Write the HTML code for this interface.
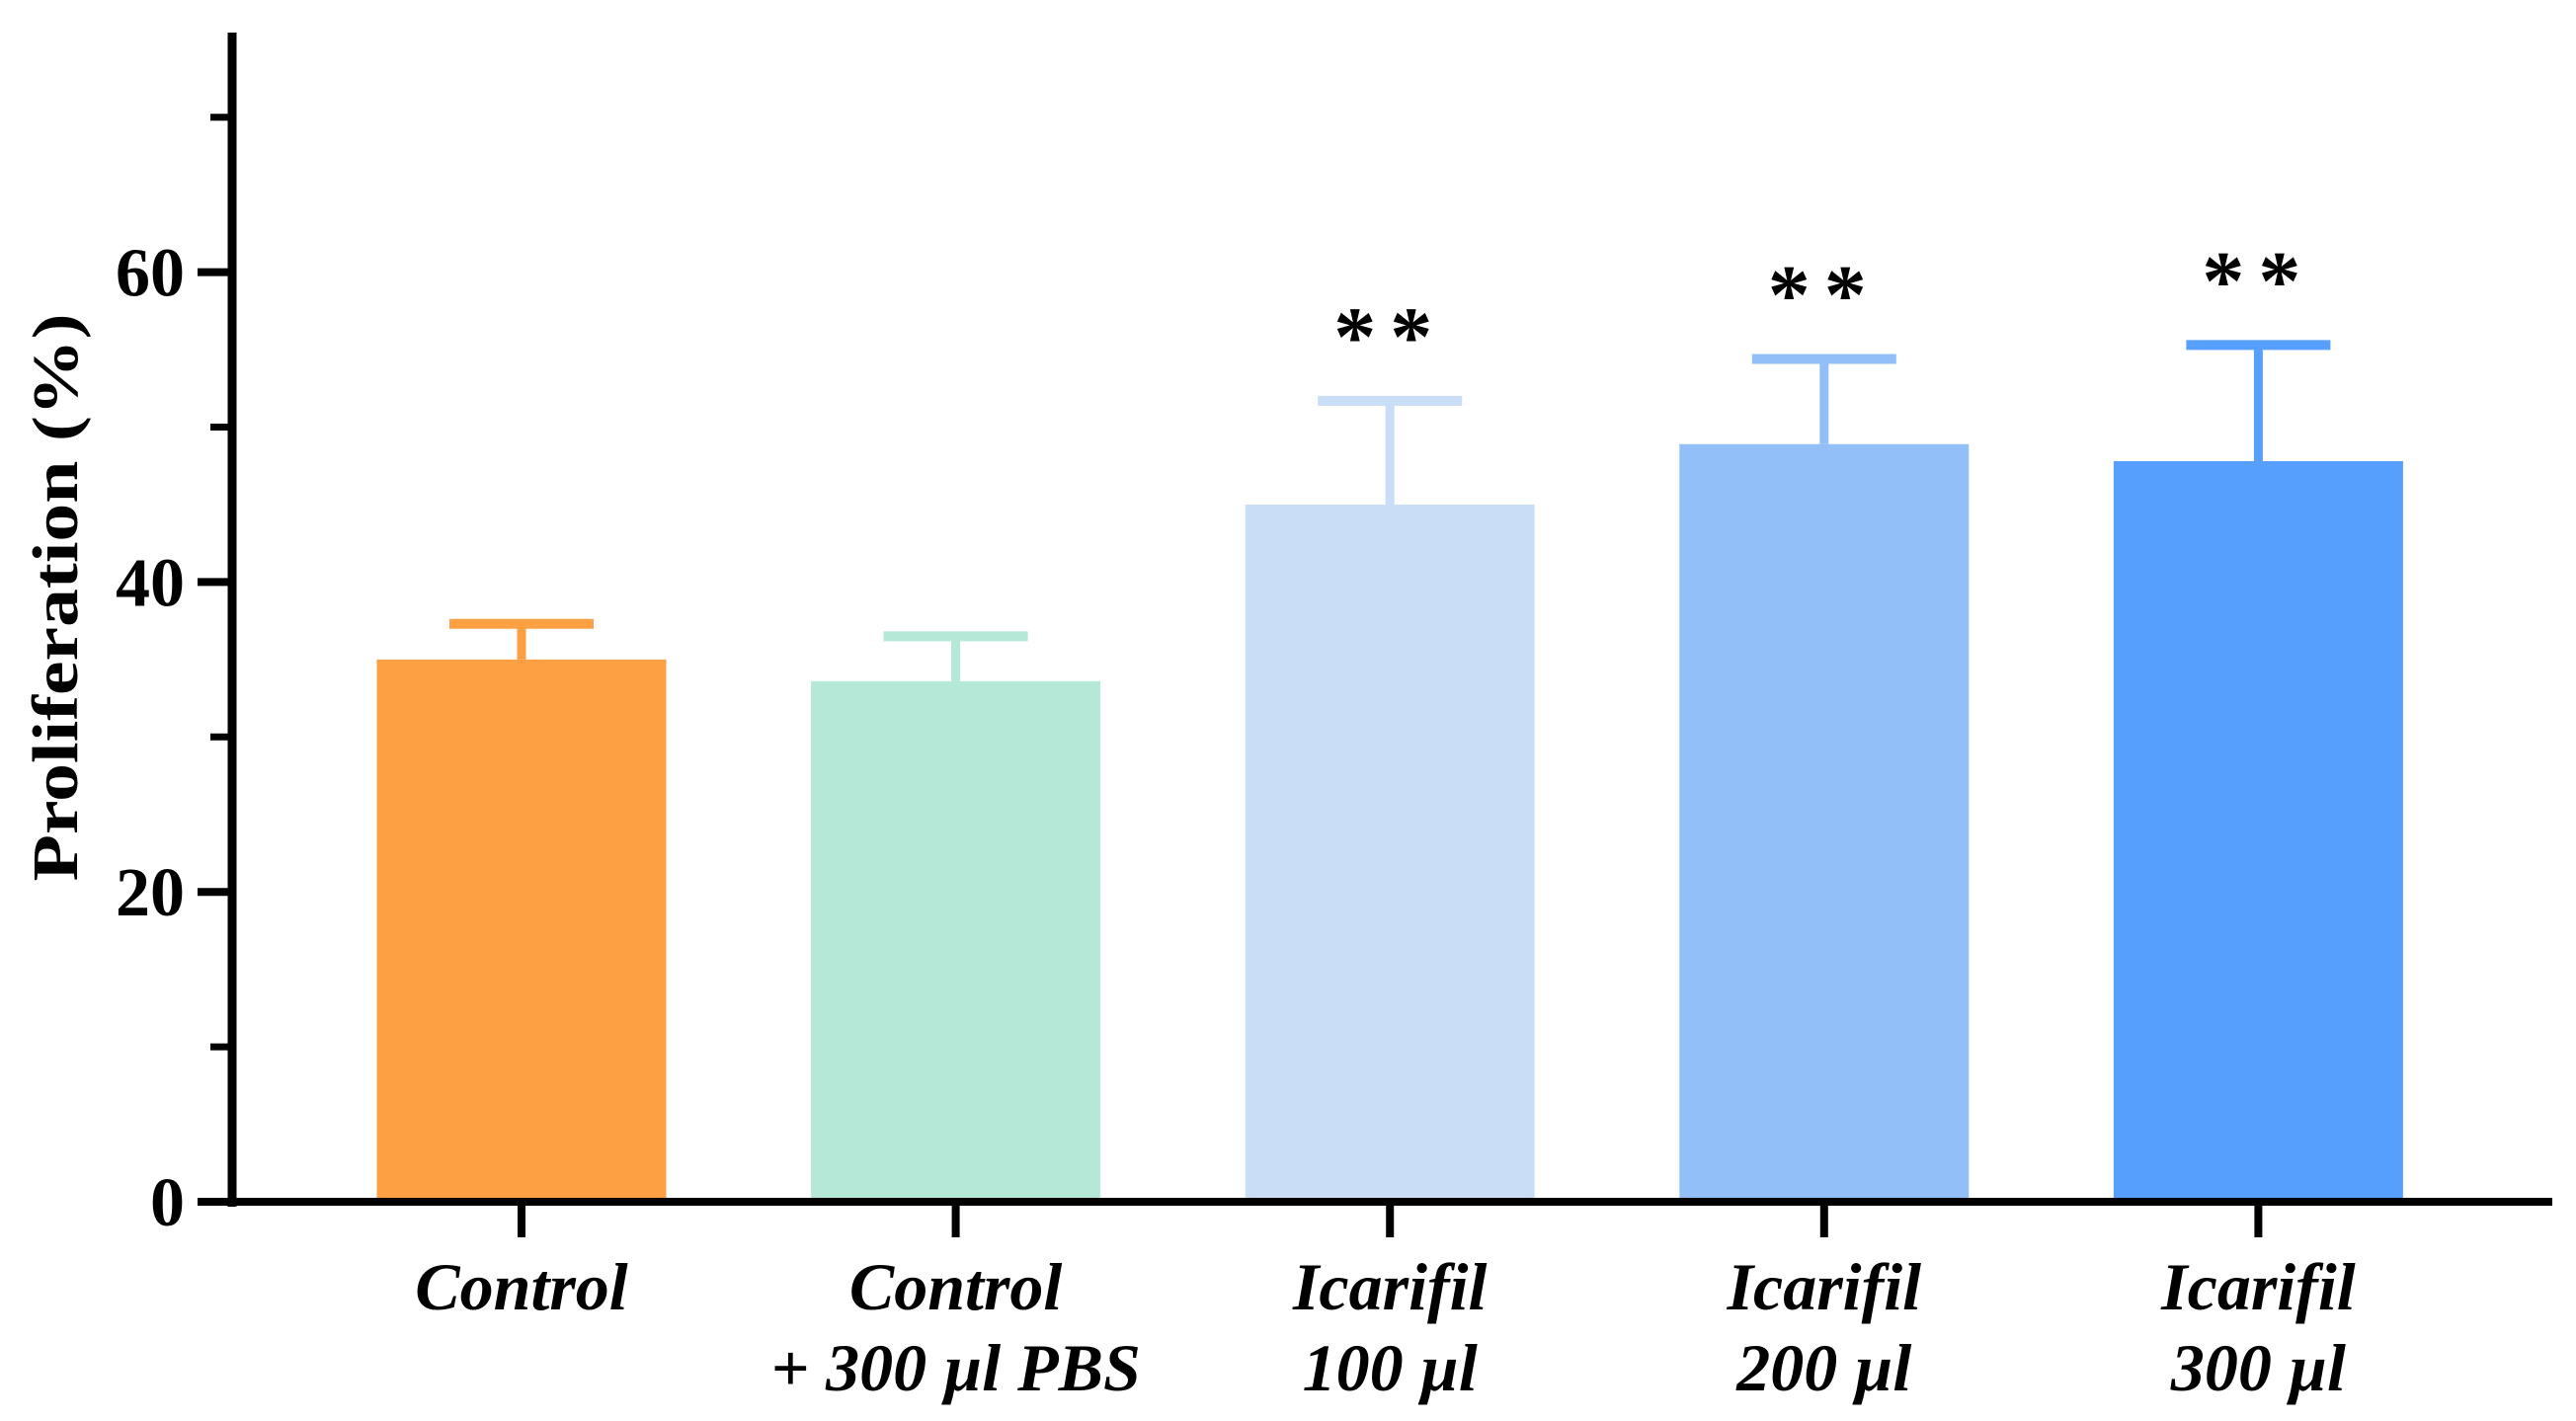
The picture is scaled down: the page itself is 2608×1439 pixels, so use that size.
<!DOCTYPE html>
<html><head><meta charset="utf-8"><style>
html,body{margin:0;padding:0;background:#fff}
svg{display:block}
text{font-family:"Liberation Serif",serif;font-weight:bold}
</style></head><body>
<svg id="chart" width="2608" height="1439" viewBox="0 0 2608 1439" xmlns="http://www.w3.org/2000/svg">
<g id="axes"></g><g id="bars"></g>
<text transform="translate(78,605) rotate(-90)" text-anchor="middle" font-size="66" textLength="575" lengthAdjust="spacingAndGlyphs">Proliferation (%)</text>
</svg>
<script>
const categories1 = ["Control","Control","Icarifil","Icarifil","Icarifil"];
const categories2 = ["","+ 300 µl PBS","100 µl","200 µl","300 µl"];
const means = [35.0, 33.6, 45.0, 48.9, 47.8];
const errors = [2.3, 2.9, 6.7, 5.5, 7.5];
const stars = ["", "", "**", "**", "**"];
const colors = ["#FDA043","#B5E8D6","#C9DDF7","#93BFF8","#569FFC"];
const yTicks = [0, 20, 40, 60];
const yMinor = [10, 30, 50, 70];

const NS = "http://www.w3.org/2000/svg";
const x0 = 235, y0 = 1217, pxPerUnit = 15.69, xStart = 528, step = 439.6, barW = 293;
const yScale = v => y0 - v * pxPerUnit;
const xScale = i => xStart + i * step;
function mk(tag, attrs, parent){const e=document.createElementNS(NS,tag);for(const k in attrs)e.setAttribute(k,attrs[k]);parent.appendChild(e);return e;}
const axes = document.getElementById('axes'), bars = document.getElementById('bars');

let yl = mk('line',{x1:x0,y1:33,x2:x0,y2:y0+5,stroke:'#000','stroke-width':9},axes);


let xl = mk('line',{x1:x0-4,y1:y0,x2:2584,y2:y0,stroke:'#000','stroke-width':8},axes);


yTicks.forEach(v=>{
  const t = mk('line',{x1:x0-35,y1:yScale(v),x2:x0,y2:yScale(v),stroke:'#000','stroke-width':8},axes);
  
  
  const l = mk('text',{x:x0-48,y:yScale(v)+24,'text-anchor':'end','font-size':70},axes);
  l.textContent = v;
  
  
});
yMinor.forEach(v=>{
  const t = mk('line',{x1:x0-22,y1:yScale(v),x2:x0,y2:yScale(v),stroke:'#000','stroke-width':7},axes);
  
  
});
means.forEach((m,i)=>{
  const cx = xScale(i);
  const top = yScale(m), et = yScale(m+errors[i]);
  const b = mk('rect',{x:cx-barW/2,y:top,width:barW,height:y0-4-top,fill:colors[i]},bars);
  
  
  const s = mk('line',{x1:cx,y1:top,x2:cx,y2:et,stroke:colors[i],'stroke-width':9},bars);
  
  
  const c = mk('line',{x1:cx-73,y1:et,x2:cx+73,y2:et,stroke:colors[i],'stroke-width':10},bars);
  
  
  const t = mk('line',{x1:cx,y1:y0,x2:cx,y2:y0+36,stroke:'#000','stroke-width':8},axes);
  
  
  if(stars[i]){
    const st = mk('text',{x:cx,y:et-36,'text-anchor':'middle','font-size':86,'letter-spacing':'14'},bars);
    st.textContent = stars[i];
    
    
  }
  const l1 = mk('text',{x:cx,y:1326,'text-anchor':'middle','font-size':68,'font-style':'italic'},axes);
  l1.textContent = categories1[i];
  
  
  if(categories2[i]){
    const l2 = mk('text',{x:cx,y:1408,'text-anchor':'middle','font-size':68,'font-style':'italic'},axes);
    l2.textContent = categories2[i];
    
    
  }
});
</script>
</body></html>
